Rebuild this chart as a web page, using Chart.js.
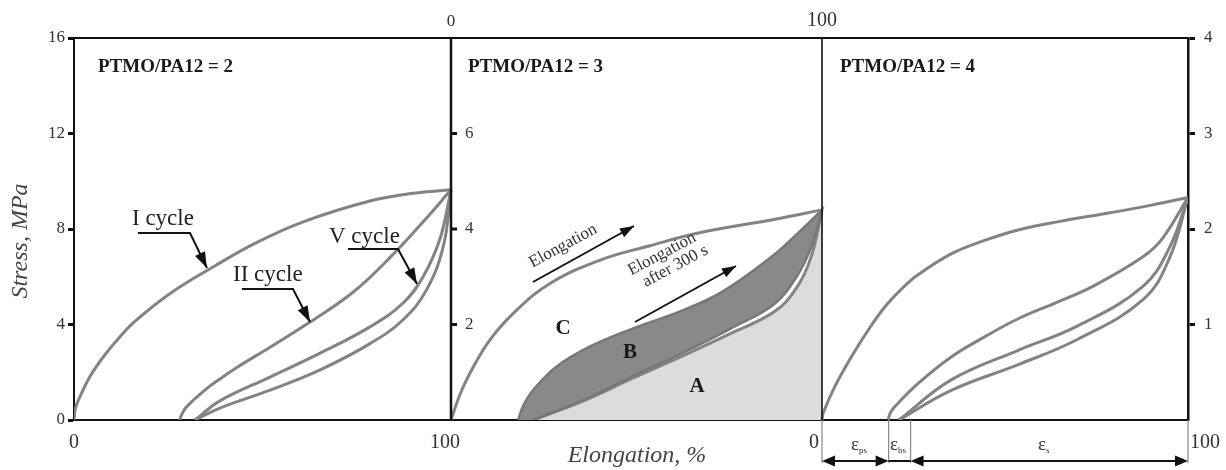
<!DOCTYPE html>
<html>
<head>
<meta charset="utf-8">
<script src="https://cdn.jsdelivr.net/npm/chart.js@4.4.1/dist/chart.umd.min.js"></script>
<style>
  body { margin: 0; background: #fff; }
</style>
</head>
<body>
<canvas id="graf" width="1226" height="470"></canvas>
<script>
const graph = document.getElementById('graf')

// three panels share one x scale, each panel is 0..100 % elongation
const panelEdges = [0, 377, 748, 1114]
const p2Ticks = [2, 4, 6]
const p3StrainMarks = [0, 18.2, 24.2, 100]

// PTMO/PA12 = 2 (stress 0-16 MPa)
const p1CycleIx = [0, 0.4, 1.6, 4.2, 7.8, 12.2, 16.6, 25.5, 37, 48, 60.8, 78.5, 90, 100]
const p1CycleIy = [0, 0.5, 0.98, 1.81, 2.65, 3.49, 4.19, 5.3, 6.42, 7.4, 8.3, 9.17, 9.5, 9.64]
const p1CycleIIx = [28, 28.8, 29.9, 34.3, 38.7, 43.2, 52, 62.6, 74, 83.8, 92.6, 100]
const p1CycleIIy = [0, 0.3, 0.56, 1.2, 1.72, 2.2, 3.05, 4.1, 5.35, 6.8, 8.3, 9.64]
const p1CycleVx = [32.1, 38.7, 52, 65.3, 78.5, 87.3, 92.6, 97.1, 100]
const p1CycleVy = [0, 0.8, 1.8, 2.8, 3.9, 4.9, 6.0, 7.6, 9.64]
const p1UnloadX = [32.1, 38.7, 52, 65.3, 78.5, 87.3, 93.5, 98, 100]
const p1UnloadY = [0, 0.5, 1.25, 2.1, 3.2, 4.2, 5.45, 7.3, 9.64]

// PTMO/PA12 = 3 (stress 0-8 MPa)
const p2LoadX = [0, 0.6, 2.5, 5.1, 10.5, 17.7, 26.7, 40.2, 53.6, 67, 87, 100]
const p2LoadY = [0, 0.14, 0.55, 0.98, 1.68, 2.3, 2.86, 3.35, 3.65, 3.92, 4.2, 4.4]
const p2AfterX = [18.1, 19.5, 22.2, 28.5, 37.5, 49.1, 62.6, 73.4, 86.9, 94, 100]
const p2AfterY = [0, 0.3, 0.63, 1.12, 1.54, 1.92, 2.3, 2.7, 3.45, 3.95, 4.4]
const p2BackX = [100, 97, 93, 87, 75, 62.6, 49.1, 35.7, 22.2]
const p2BackY = [4.4, 3.6, 2.98, 2.42, 1.9, 1.41, 0.92, 0.42, 0]
const p2ElasticX = [22.2, 35.7, 49.1, 62.6, 75, 87, 93, 97, 100]
const p2ElasticY = [0, 0.4, 0.88, 1.35, 1.8, 2.26, 2.75, 3.4, 4.4]

// PTMO/PA12 = 4 (stress 0-4 MPa)
const p3CycleIx = [0, 0.3, 3.5, 8, 12.6, 17.1, 21.7, 26.2, 35.3, 44.4, 53.6, 65, 78.7, 90, 100]
const p3CycleIy = [0, 0.07, 0.35, 0.66, 0.94, 1.18, 1.37, 1.52, 1.74, 1.88, 1.99, 2.08, 2.17, 2.25, 2.33]
const p3CycleIIx = [18.1, 18.6, 19.9, 26.2, 35.3, 44.4, 53.6, 64, 74, 87.7, 93, 100]
const p3CycleIIy = [0, 0.07, 0.14, 0.38, 0.66, 0.87, 1.06, 1.23, 1.4, 1.71, 1.9, 2.33]
const p3CycleVx = [21, 35.3, 53.6, 69.6, 87.7, 95, 100]
const p3CycleVy = [0, 0.42, 0.73, 0.98, 1.4, 1.81, 2.33]
const p3UnloadX = [21, 35.3, 53.6, 69.6, 87.7, 95, 100]
const p3UnloadY = [0, 0.31, 0.58, 0.84, 1.26, 1.7, 2.33]

function pts(panel, xs, ys) {
  let w = panelEdges[panel + 1] - panelEdges[panel]
  return xs.map((v, i) => ({x: panelEdges[panel] + v * w / 100, y: ys[i]}))
}

function curve(data, axis) {
  return {data: data, yAxisID: axis, showLine: true, borderColor: '#838383', borderWidth: 3,
    pointRadius: 0, tension: 0.4, fill: false, order: 1}
}

const serif = '"Liberation Serif", "DejaVu Serif", serif'

function arrowHead(ctx, x1, y1, x2, y2, len, wid) {
  let a = Math.atan2(y2 - y1, x2 - x1)
  ctx.beginPath()
  ctx.moveTo(x2, y2)
  ctx.lineTo(x2 - len * Math.cos(a) + wid / 2 * Math.sin(a), y2 - len * Math.sin(a) - wid / 2 * Math.cos(a))
  ctx.lineTo(x2 - len * Math.cos(a) - wid / 2 * Math.sin(a), y2 - len * Math.sin(a) + wid / 2 * Math.cos(a))
  ctx.closePath()
  ctx.fill()
}

function leader(ctx, p, len, wid) {
  ctx.beginPath()
  ctx.moveTo(p[0][0], p[0][1])
  for (let i = 1; i < p.length; i++) ctx.lineTo(p[i][0], p[i][1])
  ctx.stroke()
  let n = p.length
  arrowHead(ctx, p[n - 2][0], p[n - 2][1], p[n - 1][0], p[n - 1][1], len, wid)
}

function label(ctx, txt, x, y, font, align) {
  ctx.font = font
  ctx.textAlign = align || 'left'
  ctx.fillText(txt, x, y)
}

function epsLabel(ctx, sub, x, y) {
  ctx.textAlign = 'left'
  ctx.font = '19px ' + serif
  ctx.fillText('\u03b5', x, y)
  let w = ctx.measureText('\u03b5').width
  ctx.font = '9px ' + serif
  ctx.fillText(sub, x + w, y + 3)
}

const decorations = {
  id: 'decorations',
  afterDatasetsDraw(chart) {
    const ctx = chart.ctx
    const xs = chart.scales.x, y2 = chart.scales.y2
    const area = chart.chartArea
    const e1 = xs.getPixelForValue(panelEdges[1]), e2 = xs.getPixelForValue(panelEdges[2])
    ctx.save()
    ctx.strokeStyle = '#111'
    ctx.fillStyle = '#111'
    ctx.lineCap = 'butt'
    // frame top + panel dividers
    ctx.lineWidth = 2
    ctx.beginPath(); ctx.moveTo(area.left, area.top); ctx.lineTo(area.right + 1, area.top); ctx.stroke()
    ctx.lineWidth = 2.5
    ctx.beginPath(); ctx.moveTo(e1, area.top); ctx.lineTo(e1, area.bottom); ctx.stroke()
    ctx.lineWidth = 1.6
    ctx.beginPath(); ctx.moveTo(e2, area.top); ctx.lineTo(e2, area.bottom); ctx.stroke()

    // middle panel stress axis (0-8)
    ctx.lineWidth = 3
    ctx.fillStyle = '#333'
    for (const t of p2Ticks) {
      let py = y2.getPixelForValue(t)
      ctx.beginPath(); ctx.moveTo(e1, py); ctx.lineTo(e1 + 6, py); ctx.stroke()
      ctx.textBaseline = 'middle'
      label(ctx, String(t), e1 + 14, py, '17px ' + serif)
    }

    // elongation tick labels
    ctx.textBaseline = 'middle'
    label(ctx, '0', area.left, 443, '20px ' + serif, 'center')
    label(ctx, '100', e1 - 6, 443, '20px ' + serif, 'center')
    label(ctx, '0', e2 - 3, 443, '20px ' + serif, 'right')
    label(ctx, '100', area.right + 2, 443, '20px ' + serif, 'left')
    label(ctx, '0', e1, 22, '17px ' + serif, 'center')
    label(ctx, '100', e2, 21, '20px ' + serif, 'center')

    // axis titles
    ctx.fillStyle = '#444'
    label(ctx, 'Elongation, %', 637, 456, 'italic 24px ' + serif, 'center')
    ctx.save()
    ctx.translate(21, 241)
    ctx.rotate(-Math.PI / 2)
    label(ctx, 'Stress, MPa', 0, 0, 'italic 24px ' + serif, 'center')
    ctx.restore()

    // panel titles
    ctx.fillStyle = '#1a1a1a'
    ctx.textBaseline = 'alphabetic'
    label(ctx, 'PTMO/PA12 = 2', 98, 72, 'bold 19px ' + serif)
    label(ctx, 'PTMO/PA12 = 3', 468, 72, 'bold 19px ' + serif)
    label(ctx, 'PTMO/PA12 = 4', 840, 72, 'bold 19px ' + serif)

    // cycle annotations, panel 1
    ctx.fillStyle = '#222'
    ctx.strokeStyle = '#111'
    label(ctx, 'I cycle', 132, 225, '23px ' + serif)
    label(ctx, 'II cycle', 233, 281, '23px ' + serif)
    label(ctx, 'V cycle', 329, 243, '23px ' + serif)
    ctx.fillStyle = '#111'
    ctx.lineWidth = 2
    leader(ctx, [[138, 233], [190, 233], [207, 268]], 16, 11)
    leader(ctx, [[242, 289], [293, 289], [310, 322]], 16, 11)
    leader(ctx, [[348, 249], [398, 249], [417, 284]], 16, 11)

    // panel 2 annotations
    ctx.save()
    ctx.translate(563, 246); ctx.rotate(-0.5)
    ctx.fillStyle = '#333'
    ctx.textBaseline = 'middle'
    label(ctx, 'Elongation', 0, 0, '17px ' + serif, 'center')
    ctx.restore()
    ctx.save()
    ctx.translate(662, 254); ctx.rotate(-0.49)
    ctx.fillStyle = '#333'
    ctx.textBaseline = 'middle'
    label(ctx, 'Elongation', 0, 0, '17px ' + serif, 'center')
    label(ctx, 'after 300 s', 6, 17, '17px ' + serif, 'center')
    ctx.restore()
    ctx.lineWidth = 2
    leader(ctx, [[533, 282], [634, 226]], 14, 10)
    leader(ctx, [[635, 322], [736, 266]], 14, 10)
    ctx.fillStyle = '#1a1a1a'
    ctx.textBaseline = 'middle'
    label(ctx, 'C', 563, 329, 'bold 21px ' + serif, 'center')
    label(ctx, 'B', 630, 353, 'bold 21px ' + serif, 'center')
    label(ctx, 'A', 697, 387, 'bold 21px ' + serif, 'center')

    // strain components under panel 3
    const mx = p3StrainMarks.map(v => xs.getPixelForValue(panelEdges[2] + v * (panelEdges[3] - panelEdges[2]) / 100))
    ctx.strokeStyle = '#888'
    ctx.lineWidth = 1.2
    for (const m of mx) {
      ctx.beginPath(); ctx.moveTo(m, area.bottom); ctx.lineTo(m, 463); ctx.stroke()
    }
    ctx.strokeStyle = '#111'
    ctx.fillStyle = '#111'
    ctx.lineWidth = 2
    const ay = 461
    ctx.beginPath(); ctx.moveTo(mx[0] + 8, ay); ctx.lineTo(mx[1] - 8, ay); ctx.stroke()
    arrowHead(ctx, mx[1], ay, mx[0], ay, 13, 11)
    arrowHead(ctx, mx[0], ay, mx[1], ay, 13, 11)
    ctx.beginPath(); ctx.moveTo(mx[1], ay); ctx.lineTo(mx[2], ay); ctx.stroke()
    ctx.beginPath(); ctx.moveTo(mx[2] + 8, ay); ctx.lineTo(mx[3] - 8, ay); ctx.stroke()
    arrowHead(ctx, mx[3], ay, mx[2], ay, 13, 11)
    arrowHead(ctx, mx[2], ay, mx[3], ay, 13, 11)
    ctx.fillStyle = '#333'
    ctx.textBaseline = 'alphabetic'
    epsLabel(ctx, 'ps', 851, 450)
    epsLabel(ctx, 'bs', 890, 450)
    epsLabel(ctx, 's', 1038, 450)
    ctx.restore()
  }
}

const bLoop = pts(1, p2AfterX.concat(p2BackX), p2AfterY.concat(p2BackY))

new Chart(graph, {
  type: 'scatter',
  data: {
    datasets: [
      curve(pts(0, p1CycleIx, p1CycleIy), 'y'),
      curve(pts(0, p1CycleIIx, p1CycleIIy), 'y'),
      curve(pts(0, p1CycleVx, p1CycleVy), 'y'),
      curve(pts(0, p1UnloadX, p1UnloadY), 'y'),
      curve(pts(1, p2LoadX, p2LoadY), 'y2'),
      Object.assign(curve(pts(1, p2ElasticX, p2ElasticY), 'y2'), {fill: 'origin', backgroundColor: '#dcdcdc', order: 5}),
      Object.assign(curve(bLoop, 'y2'), {fill: 'shape', backgroundColor: '#898989', borderColor: '#777', borderWidth: 2.5, order: 3}),
      curve(pts(2, p3CycleIx, p3CycleIy), 'y3'),
      curve(pts(2, p3CycleIIx, p3CycleIIy), 'y3'),
      curve(pts(2, p3CycleVx, p3CycleVy), 'y3'),
      curve(pts(2, p3UnloadX, p3UnloadY), 'y3')
    ]
  },
  options: {
    responsive: false,
    animation: false,
    devicePixelRatio: 1,
    layout: {padding: {top: 38}},
    plugins: {legend: {display: false}, tooltip: {enabled: false}},
    scales: {
      x: {
        type: 'linear', min: panelEdges[0], max: panelEdges[3],
        ticks: {display: false},
        grid: {drawOnChartArea: false, drawTicks: false},
        border: {color: '#111', width: 2},
        afterFit(s) { s.height = 50 }
      },
      y: {
        position: 'left', min: 0, max: 16,
        ticks: {stepSize: 4, color: '#333', padding: 3, font: {family: serif, size: 17}},
        grid: {drawOnChartArea: false, tickLength: 6, tickWidth: 3, tickColor: '#111'},
        border: {color: '#111', width: 2},
        afterFit(s) { s.width = 74 }
      },
      y2: {display: false, min: 0, max: 8},
      y3: {
        position: 'right', min: 0, max: 4,
        ticks: {stepSize: 1, color: '#333', padding: 9, font: {family: serif, size: 17}},
        grid: {drawOnChartArea: false, tickLength: 7, tickWidth: 3, tickColor: '#111'},
        border: {color: '#111', width: 2.5},
        afterBuildTicks(s) { s.ticks = s.ticks.filter(t => t.value > 0) },
        afterFit(s) { s.width = 38 }
      }
    }
  },
  plugins: [decorations]
})
</script>
</body>
</html>
